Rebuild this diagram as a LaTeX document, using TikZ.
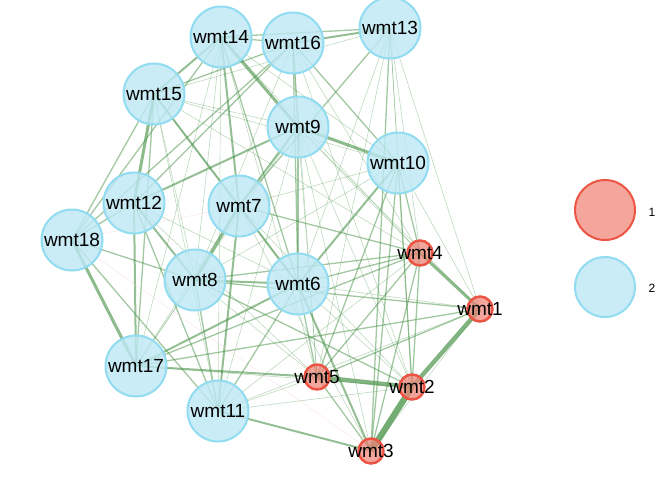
\documentclass[tikz,border=0pt]{standalone}
\usepackage{fontspec}
\setmainfont{Liberation Sans}
\pgfdeclarelayer{bg}
\pgfsetlayers{bg,main}
\definecolor{edgeg}{RGB}{70,145,70}
\definecolor{bfill}{RGB}{190,232,244}
\definecolor{bdraw}{RGB}{145,220,240}
\definecolor{rfill}{RGB}{240,130,118}
\definecolor{rdraw}{RGB}{236,84,68}
\definecolor{epink}{RGB}{245,195,210}
\tikzset{
  big/.style={circle,minimum size=61pt,inner sep=0pt,draw=bdraw,line width=2pt,fill=bfill,fill opacity=0.82,
    label={[lab]center:#1}},
  small/.style={circle,minimum size=25pt,inner sep=0pt,draw=rdraw,line width=2.5pt,fill=rfill,fill opacity=0.72,
    label={[lab]center:#1}},
  lab/.style={font=\fontsize{19}{21}\selectfont,text=black,inner sep=0pt,text opacity=1},
  leg/.style={font=\fontsize{12}{14}\selectfont,text=black,inner sep=0pt},
  e1/.style={draw=edgeg,line width=0.6pt,draw opacity=0.35},
  e2/.style={draw=edgeg,line width=1.3pt,draw opacity=0.5},
  e3/.style={draw=edgeg,line width=2pt,draw opacity=0.58},
  e4/.style={draw=edgeg,line width=3pt,draw opacity=0.62},
  e5/.style={draw=edgeg,line width=4.4pt,draw opacity=0.68},
  e6/.style={draw=edgeg,line width=6.2pt,draw opacity=0.75},
  ep/.style={draw=epink,line width=0.4pt,draw opacity=0.5},
}
\newcommand{\ed}[3]{\path[#1] (#2.center) -- (#3.center);}
\begin{document}
\begin{tikzpicture}[x=1pt,y=-1pt]
\useasboundingbox (0,0) rectangle (672,480);
% nodes
\node[big=wmt14] (n14) at (221,37) {};
\node[big=wmt16] (n16) at (293,43) {};
\node[big=wmt13] (n13) at (390,28) {};
\node[big=wmt15] (n15) at (154,94) {};
\node[big=wmt9]  (n9)  at (298,127) {};
\node[big=wmt10] (n10) at (398,163) {};
\node[big=wmt12] (n12) at (134,203) {};
\node[big=wmt7]  (n7)  at (239,206) {};
\node[big=wmt18] (n18) at (72,240) {};
\node[big=wmt8]  (n8)  at (195,280) {};
\node[big=wmt6]  (n6)  at (298,284) {};
\node[big=wmt17] (n17) at (136,366) {};
\node[big=wmt11] (n11) at (218,411) {};
\node[small=wmt4] (n4) at (420,253) {};
\node[small=wmt1] (n1) at (480,309) {};
\node[small=wmt5] (n5) at (317,377) {};
\node[small=wmt2] (n2) at (412,387) {};
\node[small=wmt3] (n3) at (371,451) {};
% legend
\node[circle,minimum size=60pt,inner sep=0pt,draw=rdraw,line width=2pt,fill=rfill,fill opacity=0.72] (l1) at (605,210) {};
\node[leg] (t1) at (652,212) {1};
\node[circle,minimum size=60pt,inner sep=0pt,draw=bdraw,line width=2pt,fill=bfill,fill opacity=0.82] (l2) at (605,287) {};
\node[leg] (t2) at (652,288) {2};
% edges
\begin{pgfonlayer}{bg}
\ed{e6}{n2}{n3}
\ed{e5}{n1}{n2}
\ed{e5}{n5}{n2}
\ed{e4}{n4}{n1}
\ed{e4}{n9}{n10}
\ed{e4}{n14}{n9}
\ed{e4}{n7}{n8}
\ed{e4}{n18}{n17}
\ed{e4}{n15}{n12}
\ed{e3}{n6}{n3}
\ed{e3}{n7}{n6}
\ed{e3}{n15}{n7}
\ed{e3}{n12}{n9}
\ed{e3}{n16}{n13}
\ed{e2}{n14}{n13}
\ed{e3}{n17}{n5}
\ed{e3}{n17}{n6}
\ed{e3}{n12}{n8}
\ed{e3}{n8}{n6}
\ed{e3}{n6}{n10}
\ed{e3}{n14}{n7}
\ed{e2}{n16}{n9}
\ed{e3}{n11}{n3}
\ed{e3}{n11}{n7}
\ed{e2}{n5}{n3}
\ed{e3}{n14}{n15}
\ed{e2}{n14}{n18}
\ed{e2}{n16}{n12}
\ed{e3}{n9}{n7}
\ed{e2}{n10}{n4}
\ed{e2}{n10}{n2}
\ed{e1}{n10}{n1}
\ed{e2}{n10}{n3}
\ed{e2}{n10}{n5}
\ed{e1}{n10}{n7}
\ed{e1}{n10}{n8}
\ed{e1}{n13}{n10}
\ed{e2}{n13}{n7}
\ed{e1}{n13}{n4}
\ed{e1}{n13}{n1}
\ed{e1}{n13}{n2}
\ed{e1}{n13}{n5}
\ed{e1}{n13}{n6}
\ed{e2}{n13}{n3}
\ed{e2}{n16}{n10}
\ed{e1}{n16}{n4}
\ed{e1}{n16}{n2}
\ed{e2}{n16}{n6}
\ed{e2}{n16}{n15}
\ed{e1}{n16}{n8}
\ed{e2}{n16}{n18}
\ed{e1}{n16}{n5}
\ed{e2}{n14}{n16}
\ed{e2}{n14}{n6}
\ed{e1}{n14}{n8}
\ed{e1}{n14}{n10}
\ed{e1}{n14}{n4}
\ed{e1}{n14}{n11}
\ed{e1}{n14}{n17}
\ed{e1}{n14}{n5}
\ed{e1}{n15}{n9}
\ed{e1}{n15}{n10}
\ed{e2}{n15}{n17}
\ed{e2}{n15}{n18}
\ed{e1}{n15}{n8}
\ed{e1}{n15}{n6}
\ed{e1}{n15}{n4}
\ed{e1}{n15}{n11}
\ed{e1}{n15}{n13}
\ed{e3}{n12}{n17}
\ed{e1}{n12}{n6}
\ed{e2}{n12}{n11}
\ed{e1}{n12}{n5}
\ed{e2}{n12}{n18}
\ed{e2}{n18}{n8}
\ed{e2}{n18}{n11}
\ed{ep}{n18}{n3}
\ed{ep}{n18}{n7}
\ed{e2}{n8}{n11}
\ed{e1}{n8}{n17}
\ed{e2}{n8}{n4}
\ed{e2}{n8}{n1}
\ed{e2}{n8}{n2}
\ed{e1}{n8}{n5}
\ed{e2}{n7}{n4}
\ed{e1}{n7}{n17}
\ed{e1}{n7}{n3}
\ed{e1}{n7}{n2}
\ed{e2}{n6}{n4}
\ed{e2}{n6}{n5}
\ed{e2}{n6}{n11}
\ed{e1}{n6}{n1}
\ed{e1}{n6}{n2}
\ed{e2}{n17}{n4}
\ed{e2}{n17}{n1}
\ed{e1}{n17}{n2}
\ed{e1}{n11}{n5}
\ed{e1}{n11}{n2}
\ed{e1}{n11}{n1}
\ed{e1}{n11}{n4}
\ed{e2}{n5}{n4}
\ed{e2}{n5}{n1}
\ed{e2}{n4}{n2}
\ed{e2}{n4}{n3}
\ed{e2}{n9}{n6}
\ed{e1}{n9}{n5}
\ed{e1}{n9}{n2}
\ed{e1}{n9}{n3}
\ed{e1}{n9}{n4}
\ed{e1}{n9}{n11}
\ed{e1}{n9}{n17}
\ed{e1}{n1}{n3}
\ed{e1}{n1}{n9}
\end{pgfonlayer}
\end{tikzpicture}
\end{document}
